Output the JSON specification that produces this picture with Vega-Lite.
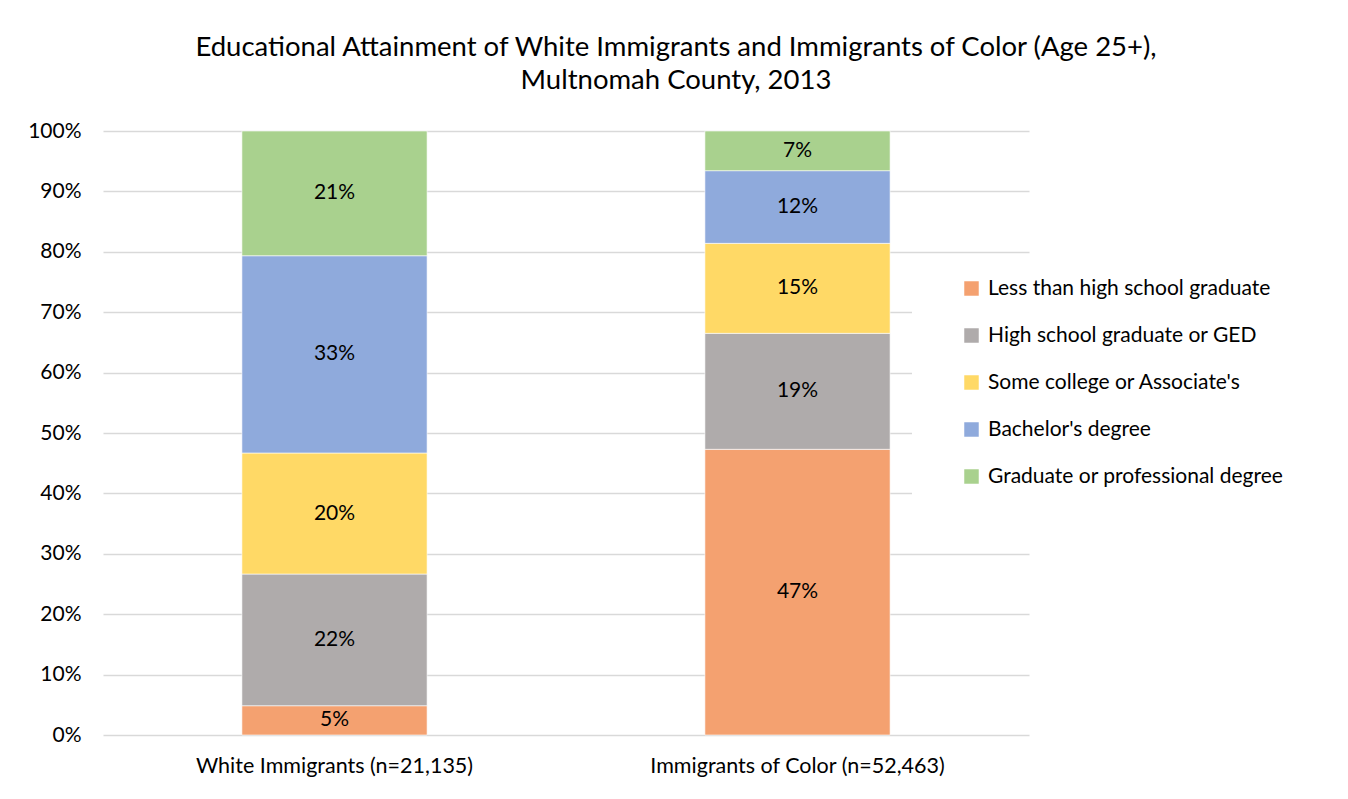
{
  "$schema": "https://vega.github.io/schema/vega-lite/v6.json",
  "width": 926,
  "height": 604,
  "autosize": {"type": "none"},
  "padding": {"left": 103, "top": 131, "right": 319, "bottom": 64},
  "background": "white",
  "title": {
    "text": ["Educational Attainment of White Immigrants and Immigrants of Color (Age 25+),", "Multnomah County, 2013"],
    "font": "Lato",
    "fontSize": 27.5,
    "fontWeight": "normal",
    "color": "#000000",
    "anchor": "middle",
    "dx": 110,
    "offset": 26,
    "lineHeight": 33
  },
  "data": {
    "values": [
      {"group": "White Immigrants (n=21,135)", "gorder": 1, "cat": "Less than high school graduate", "order": 1, "value": 0.0485},
      {"group": "White Immigrants (n=21,135)", "gorder": 1, "cat": "High school graduate or GED", "order": 2, "value": 0.218},
      {"group": "White Immigrants (n=21,135)", "gorder": 1, "cat": "Some college or Associate's", "order": 3, "value": 0.2004},
      {"group": "White Immigrants (n=21,135)", "gorder": 1, "cat": "Bachelor's degree", "order": 4, "value": 0.3266},
      {"group": "White Immigrants (n=21,135)", "gorder": 1, "cat": "Graduate or professional degree", "order": 5, "value": 0.2065},
      {"group": "Immigrants of Color (n=52,463)", "gorder": 2, "cat": "Less than high school graduate", "order": 1, "value": 0.473},
      {"group": "Immigrants of Color (n=52,463)", "gorder": 2, "cat": "High school graduate or GED", "order": 2, "value": 0.192},
      {"group": "Immigrants of Color (n=52,463)", "gorder": 2, "cat": "Some college or Associate's", "order": 3, "value": 0.149},
      {"group": "Immigrants of Color (n=52,463)", "gorder": 2, "cat": "Bachelor's degree", "order": 4, "value": 0.1203},
      {"group": "Immigrants of Color (n=52,463)", "gorder": 2, "cat": "Graduate or professional degree", "order": 5, "value": 0.0657}
    ]
  },
  "transform": [
    {"stack": "value", "groupby": ["group"], "sort": [{"field": "order", "order": "ascending"}], "as": ["y0", "y1"]},
    {"calculate": "(datum.y0 + datum.y1) / 2", "as": "mid"}
  ],
  "encoding": {
    "x": {
      "field": "group",
      "type": "nominal",
      "sort": ["White Immigrants (n=21,135)", "Immigrants of Color (n=52,463)"],
      "scale": {"paddingInner": 0.6, "paddingOuter": 0.3},
      "axis": {
        "title": null,
        "labelAngle": 0,
        "labelFont": "Lato",
        "labelFontSize": 21.5,
        "labelColor": "#000000",
        "labelPadding": 20,
        "labelLimit": 500,
        "ticks": false,
        "domain": false,
        "grid": false
      }
    }
  },
  "layer": [
    {
      "mark": {"type": "bar", "stroke": "white", "strokeWidth": 0.6},
      "encoding": {
        "y": {
          "field": "y0",
          "type": "quantitative",
          "scale": {"domain": [0, 1], "nice": false},
          "axis": {
            "title": null,
            "format": ".0%",
            "values": [0, 0.1, 0.2, 0.3, 0.4, 0.5, 0.6, 0.7, 0.8, 0.9, 1],
            "labelFont": "Lato",
            "labelFontSize": 21,
            "labelColor": "#000000",
            "labelPadding": 22,
            "ticks": false,
            "domain": false,
            "grid": true,
            "gridColor": "#d9d9d9",
            "gridWidth": 1.4,
            "zindex": 0
          }
        },
        "y2": {"field": "y1"},
        "color": {
          "field": "cat",
          "type": "nominal",
          "scale": {
            "domain": ["Less than high school graduate", "High school graduate or GED", "Some college or Associate's", "Bachelor's degree", "Graduate or professional degree"],
            "range": ["#F4A170", "#AFABAB", "#FFD966", "#8FAADC", "#A9D18E"]
          },
          "legend": {
            "title": null,
            "orient": "none",
            "legendX": 809,
            "legendY": 132,
            "padding": 15,
            "fillColor": "white",
            "symbolType": "square",
            "symbolSize": 210,
            "symbolStrokeWidth": 0,
            "symbolOpacity": 1,
            "symbolOffset": 34,
            "labelOffset": 6,
            "labelFont": "Lato",
            "labelFontSize": 21,
            "labelColor": "#000000",
            "labelLimit": 400,
            "rowPadding": 25
          }
        }
      }
    },
    {
      "mark": {"type": "text", "font": "Lato", "fontSize": 21, "color": "#000000", "baseline": "middle", "align": "center"},
      "encoding": {
        "y": {"field": "mid", "type": "quantitative"},
        "text": {"field": "value", "type": "quantitative", "format": ".0%"}
      }
    }
  ],
  "config": {
    "view": {"stroke": null}
  }
}
